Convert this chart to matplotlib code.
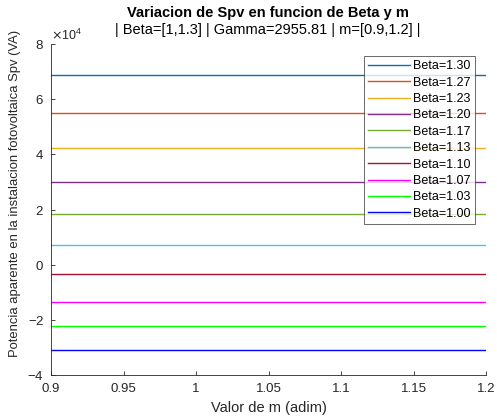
import matplotlib

matplotlib.use("Agg")

import matplotlib.pyplot as plt
import numpy as np
from matplotlib.ticker import ScalarFormatter

plt.rcParams["font.family"] = ["Liberation Sans", "DejaVu Sans"]

# m range and Spv per Beta (constant across m)
m_range = [0.9, 1.2]
betas = [1.30, 1.27, 1.23, 1.20, 1.17, 1.13, 1.10, 1.07, 1.03, 1.00]
spv = [68800, 55100, 42200, 29900, 18300, 7100, -3400, -13400, -22400, -31000]

colors = ["#0072BD", "#D95319", "#EDB120", "#7E2F8E", "#77AC30",
          "#4DBEEE", "#A2142F", "#FF00FF", "#00FF00", "#0000FF"]

fig = plt.figure(figsize=(4.97, 4.19), dpi=100, facecolor="white")
ax = fig.add_axes([51 / 497, 1 - 375 / 419, 435 / 497, 331 / 419])

for b, s, c in zip(betas, spv, colors):
    ax.plot(m_range, [s, s], color=c, lw=1.0, label=f"Beta={b:.2f}")

ax.set_xlim(0.9, 1.2)
ax.set_ylim(-40000, 80000)
ax.set_xticks([0.9, 0.95, 1.0, 1.05, 1.1, 1.15, 1.2])
ax.set_xticklabels(["0.9", "0.95", "1", "1.05", "1.1", "1.15", "1.2"])
ax.set_yticks(np.arange(-40000, 80001, 20000))

fmt = ScalarFormatter(useMathText=True)
fmt.set_powerlimits((0, 0))
ax.yaxis.set_major_formatter(fmt)
ax.yaxis.get_offset_text().set_fontsize(9)
ax.yaxis.get_offset_text().set_color("#262626")

for side in ("top", "right"):
    ax.spines[side].set_visible(False)
for side in ("left", "bottom"):
    ax.spines[side].set_color("#262626")
    ax.spines[side].set_linewidth(0.6)
ax.tick_params(direction="in", length=3, width=0.6, colors="#262626",
               labelsize=9.5)
ax.tick_params(axis="x", pad=6)
ax.tick_params(axis="y", pad=5)

ax.set_xlabel("Valor de m (adim)", fontsize=10.5, color="#262626")
ax.xaxis.set_label_coords(0.5, -0.08)
ax.set_ylabel("Potencia aparente en la instalacion fotovoltaica Spv (VA)",
              fontsize=9.4, color="#262626")
ax.yaxis.set_label_coords(-30 / 435, 0.55)

fig.text(0.539, 1 - 13 / 419, "Variacion de Spv en funcion de Beta y m",
         ha="center", va="center", fontsize=10.5, fontweight="bold")
fig.text(0.539, 1 - 30 / 419,
         "| Beta=[1,1.3] | Gamma=2955.81 | m=[0.9,1.2] |",
         ha="center", va="center", fontsize=10.5)

leg = ax.legend(loc="upper right", bbox_to_anchor=(0.975, 0.964), fontsize=9,
                frameon=True, fancybox=False, borderpad=0.35,
                labelspacing=0.35, handlelength=3.3, handletextpad=0.3,
                borderaxespad=0)
leg.get_frame().set_edgecolor("#262626")
leg.get_frame().set_linewidth(0.6)

fig.savefig("out.png", dpi=100)
